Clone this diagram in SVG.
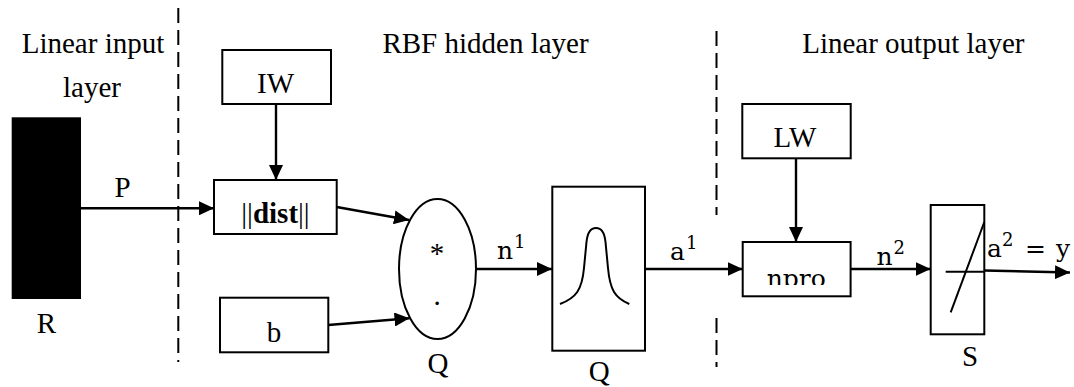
<svg xmlns="http://www.w3.org/2000/svg" width="1074" height="387" viewBox="0 0 1074 387">
<style>
  .box { fill: #fff; stroke: #000; stroke-width: 2; }
  .lbl { font-family: "Liberation Serif", "Times New Roman", serif; font-size: 29px; fill: #000; text-anchor: middle; }
  .math { font-family: "DejaVu Serif", "Liberation Serif", serif; font-size: 25px; fill: #000; }
  .sup { font-size: 18px; }
  .dash { stroke: #000; stroke-width: 2; stroke-dasharray: 15 7; fill: none; }
  .con { stroke: #000; stroke-width: 2.4; fill: none; marker-end: url(#arr); }
  .thin { stroke: #000; stroke-width: 2; fill: none; }
</style>
<defs>
  <marker id="arr" markerUnits="userSpaceOnUse" markerWidth="15" markerHeight="14" refX="15" refY="7" orient="auto">
    <path d="M0,0 L15,7 L0,14 z" fill="#000"/>
  </marker>
  <clipPath id="nclip"><rect x="740" y="244" width="110" height="41"/></clipPath>
</defs>
<rect width="1074" height="387" fill="#fff"/>

<g id="dividers">
  <line class="dash" x1="178.3" y1="8" x2="178.3" y2="362"/>
  <line class="dash" x1="716.5" y1="31" x2="716.5" y2="215"/>
  <line class="dash" x1="716.5" y1="318" x2="716.5" y2="367"/>
</g>

<g id="headers">
  <text class="lbl" x="93" y="53.3">Linear input</text>
  <text class="lbl" x="92" y="96.7">layer</text>
  <text class="lbl" x="485.5" y="53.3">RBF hidden layer</text>
  <text class="lbl" x="913.3" y="53.3">Linear output layer</text>
</g>

<g id="connectors">
  <line class="con" x1="81" y1="208.3" x2="214" y2="208.3"/>
  <line class="con" x1="276" y1="104" x2="276" y2="180"/>
  <line class="con" x1="336.7" y1="207" x2="409" y2="220"/>
  <line class="con" x1="328.3" y1="325" x2="409.5" y2="318.3"/>
  <line class="con" x1="476" y1="269" x2="552" y2="269"/>
  <line class="con" x1="645" y1="269" x2="742.7" y2="269"/>
  <line class="con" x1="796" y1="158.3" x2="796" y2="242"/>
  <line class="con" x1="850.6" y1="269" x2="930.7" y2="269"/>
  <line class="con" x1="984.3" y1="270.5" x2="1070" y2="272.5"/>
  <text class="lbl" x="122.5" y="197.3">P</text>
  <text class="math" x="497" y="259.3">n<tspan class="sup" dx="1" dy="-11">1</tspan></text>
  <text class="math" x="670" y="260">a<tspan class="sup" dx="1" dy="-11">1</tspan></text>
  <text class="math" x="876.5" y="265">n<tspan class="sup" dx="1" dy="-11">2</tspan></text>
  <text class="math" y="257"><tspan x="987">a</tspan><tspan class="sup" x="1002" dy="-11">2</tspan><tspan x="1025" dy="11">=</tspan><tspan x="1056">y</tspan></text>
</g>

<g id="input-R">
  <rect x="11.7" y="117.3" width="69.3" height="181.7" fill="#000"/>
  <text class="lbl" x="46.3" y="332.7">R</text>
</g>

<g id="IW">
  <rect class="box" x="222.3" y="50" width="108.7" height="54"/>
  <text class="lbl" x="275.5" y="93.3">IW</text>
</g>

<g id="dist">
  <rect class="box" x="214" y="180" width="122.7" height="54"/>
  <text class="lbl" x="275.5" y="222.7" font-size="28">||<tspan font-weight="bold">dist</tspan>||</text>
</g>

<g id="b">
  <rect class="box" x="220" y="297.7" width="108.3" height="54.6"/>
  <text class="lbl" x="274" y="341.7">b</text>
</g>

<g id="product">
  <ellipse class="box" cx="437.5" cy="269" rx="38.5" ry="70"/>
  <text class="lbl" x="437" y="263">*</text>
  <text class="lbl" x="437" y="305">.</text>
  <text class="lbl" x="438" y="373.3">Q</text>
</g>

<g id="radbas">
  <rect class="box" x="552.3" y="186.7" width="92.7" height="164"/>
  <path class="thin" d="M560,304 C576,298 582,290 584,268 L586.5,242 C587.5,232 591,228 596,228 C601,228 604.5,232 605.5,242 L608,268 C610,290 615,298 629.3,304"/>
  <text class="lbl" x="599.3" y="381">Q</text>
</g>

<g id="LW">
  <rect class="box" x="742.3" y="104" width="108.4" height="54.3"/>
  <text class="lbl" x="795" y="146.7">LW</text>
</g>

<g id="npro">
  <rect class="box" x="742.7" y="242" width="107.9" height="54.3"/>
  <text class="math" x="796.3" y="287" font-size="25" text-anchor="middle" clip-path="url(#nclip)">npro</text>
</g>

<g id="purelin">
  <rect class="box" x="930.7" y="205" width="53.6" height="129.3"/>
  <line class="thin" x1="945.7" y1="271.7" x2="984.3" y2="271.7"/>
  <line class="thin" x1="950.7" y1="312.3" x2="984.3" y2="222"/>
  <text class="lbl" x="970" y="366">S</text>
</g>
</svg>
